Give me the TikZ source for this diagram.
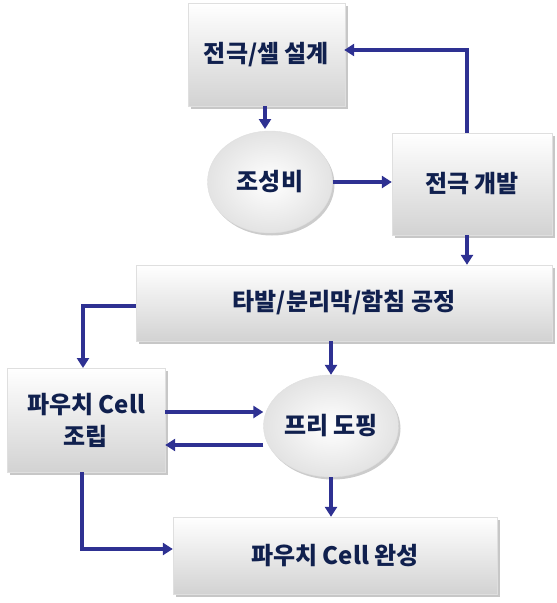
\documentclass[tikz,border=0pt]{standalone}
\usepackage{fontspec}
\setmainfont{Noto Sans CJK KR}
\usepackage{xcolor}
\usetikzlibrary{arrows.meta, shadows, shapes.geometric}

\definecolor{arrowblue}{RGB}{46,49,146}
\definecolor{textnavy}{RGB}{16,32,78}

\begin{document}
\begin{tikzpicture}[x=1pt, y=-1pt,
    stepbox/.style={rectangle, minimum width=#1, inner sep=0pt,
        top color=white, bottom color=gray!35, draw=gray!25, line width=.4pt,
        drop shadow={shadow xshift=2.5pt, shadow yshift=-2.5pt, opacity=.55, fill=gray!80},
        font=\bfseries\fontsize{24}{28}\selectfont, text=textnavy, align=center},
    stepoval/.style={ellipse, minimum width=#1, inner sep=0pt,
        inner color=white, outer color=gray!22, draw=gray!25, line width=.4pt,
        drop shadow={shadow xshift=2pt, shadow yshift=-2.5pt, opacity=.5, fill=gray!80},
        font=\bfseries\fontsize{24}{28}\selectfont, text=textnavy},
    flow/.style={draw=arrowblue, line width=3.8pt,
        -{Triangle[width=12pt, length=10pt]}}]
    \useasboundingbox (0,0) rectangle (557,603);

    \node[stepbox=157pt, minimum height=103pt] (design) at (266.5, 54.5) {전극/셀 설계};
    \node[stepoval=125pt, minimum height=102pt] (ratio) at (270, 182) {조성비};
    \node[stepbox=160pt, minimum height=102pt] (electrode) at (472, 184) {전극 개발};
    \node[stepbox=416pt, minimum height=76pt] (process) at (344, 303) {타발/분리막/함침 공정};
    \node[stepbox=158pt, minimum height=104pt] (assembly) at (86, 420) {파우치 Cell\\[4pt]조립};
    \node[stepoval=135pt, minimum height=102pt] (doping) at (331, 426) {프리 도핑};
    \node[stepbox=324pt, minimum height=77pt] (finish) at (335, 555.5) {파우치 Cell 완성};

    \coordinate (back) at (467, 50);

    \draw[flow] (design.south -| 265, 0) -- (265, 129);
    \draw[flow] (ratio.east) -- (ratio.east -| electrode.west);
    \draw[flow, shorten >=-1pt] (back |- electrode.north) |- (back) -- (design.east |- back);
    \draw[flow] (back |- electrode.south) -- (back |- process.north);
    \draw[flow] (process.west |- 0, 306) -| (83, 368);
    \draw[flow] (process.south -| doping.north) -- (doping.north);
    \draw[flow] (assembly.east |- 0, 412) -- (doping.west |- 0, 412);
    \draw[flow] (doping.west |- 0, 445) -- (assembly.east |- 0, 445);
    \draw[flow] (doping.south) -- (finish.north -| doping.south);
    \draw[flow] (assembly.south -| 82, 0) |- (finish.west |- 0, 549);
\end{tikzpicture}
\end{document}
